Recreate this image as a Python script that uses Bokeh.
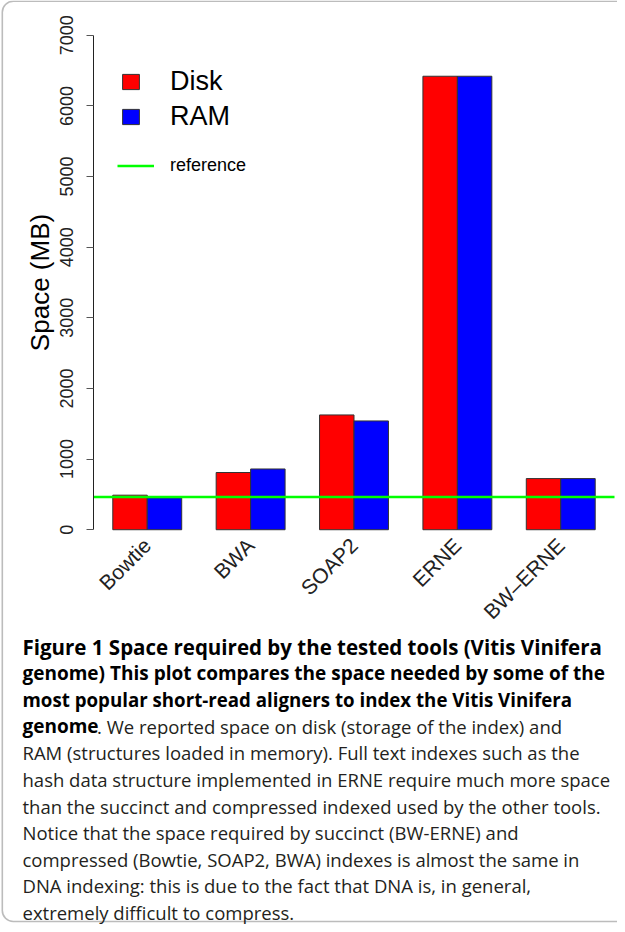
import math
from bokeh.plotting import figure
from bokeh.models import (Range1d, LinearAxis, FixedTicker, Label, Legend,
                          LegendItem, BoxAnnotation)
from bokeh.embed import file_html
from bokeh.resources import INLINE

# ---------------- data ----------------
tools = ["Bowtie", "BWA", "SOAP2", "ERNE", "BW\u2013ERNE"]
disk_mb = [489, 810, 1625, 6420, 724]
ram_mb = [452, 860, 1540, 6420, 724]
reference_mb = 465
y_ticks = [0, 1000, 2000, 3000, 4000, 5000, 6000, 7000]
y_max = 7000
series_names = ["Disk", "RAM"]
series_colors = ["#FF0000", "#0000FF"]
ref_label = "reference"
y_label = "Space (MB)"

caption_lines = [
    [("Figure 1 Space required by the tested tools (Vitis Vinifera", True)],
    [("genome) This plot compares the space needed by some of the", True)],
    [("most popular short-read aligners to index the Vitis Vinifera", True)],
    [("genome", True), (". We reported space on disk (storage of the index) and", False)],
    [("RAM (structures loaded in memory). Full text indexes such as the", False)],
    [("hash data structure implemented in ERNE require much more space", False)],
    [("than the succinct and compressed indexed used by the other tools.", False)],
    [("Notice that the space required by succinct (BW-ERNE) and", False)],
    [("compressed (Bowtie, SOAP2, BWA) indexes is almost the same in", False)],
    [("DNA indexing: this is due to the fact that DNA is, in general,", False)],
    [("extremely difficult to compress.", False)],
]

# ---------------- geometry (R barplot, beside=TRUE, space=c(0,1)) ----------------
n = len(tools)
disk_x = [3 * i + 1.5 for i in range(n)]
ram_x = [3 * i + 2.5 for i in range(n)]
group_x = [3 * i + 2 for i in range(n)]
bar_w = 1.0

x_lo = min(disk_x) - bar_w / 2
x_hi = max(ram_x) + bar_w / 2
usr_x = (x_lo - 0.04 * (x_hi - x_lo), x_hi + 0.04 * (x_hi - x_lo))
usr_y = (-0.04 * y_max, y_max * 1.04)

W, H = 617, 924
plt_l, plt_r, plt_t, plt_b = 93, 614, 15, 549
kx = (usr_x[1] - usr_x[0]) / (plt_r - plt_l)
ky = (usr_y[1] - usr_y[0]) / (plt_b - plt_t)
x_range = Range1d(usr_x[0] - plt_l * kx, usr_x[1] + (W - plt_r) * kx)
y_range = Range1d(usr_y[0] - (H - plt_b) * ky, usr_y[1] + plt_t * ky)

p = figure(width=W, height=H, x_range=x_range, y_range=y_range,
           output_backend="svg", toolbar_location=None,
           x_axis_type=None, y_axis_type=None, min_border=0)
p.outline_line_color = None
p.background_fill_color = "white"
p.border_fill_color = "white"

r_disk = p.vbar(x=disk_x, top=disk_mb, bottom=0, width=bar_w,
                fill_color=series_colors[0], line_color="#333333", line_width=1)
r_ram = p.vbar(x=ram_x, top=ram_mb, bottom=0, width=bar_w,
               fill_color=series_colors[1], line_color="#333333", line_width=1)
r_ref = p.segment(x0=[usr_x[0]], x1=[usr_x[1]], y0=[reference_mb], y1=[reference_mb],
                  line_color="#00FF00", line_width=2.5)

# y axis
yaxis = LinearAxis(fixed_location=usr_x[0], bounds=(0, y_max),
                   ticker=FixedTicker(ticks=y_ticks),
                   major_label_orientation="parallel")
yaxis.axis_line_color = "#222222"
yaxis.axis_line_width = 1
yaxis.major_tick_line_color = "#555555"
yaxis.major_tick_in = 0
yaxis.major_tick_out = 7
yaxis.minor_tick_line_color = None
yaxis.major_label_text_font = "Liberation Sans"
yaxis.major_label_text_font_size = "18px"
yaxis.major_label_text_color = "#222222"
yaxis.major_label_standoff = 13
p.add_layout(yaxis, "left")

# x axis (category names only)
xaxis = LinearAxis(fixed_location=0, ticker=FixedTicker(ticks=group_x),
                   major_label_overrides={g: t for g, t in zip(group_x, tools)},
                   major_label_orientation=math.pi / 4)
xaxis.axis_line_color = None
xaxis.major_tick_line_color = None
xaxis.minor_tick_line_color = None
xaxis.major_tick_in = 0
xaxis.major_tick_out = 0
xaxis.major_label_text_font = "Liberation Sans"
xaxis.major_label_text_font_size = "21px"
xaxis.major_label_text_color = "#222222"
xaxis.major_label_standoff = 12
p.add_layout(xaxis, "below")

# y axis title
p.add_layout(Label(x=39, y=H - 282, x_units="screen", y_units="screen",
                   text=y_label, angle=math.pi / 2, text_align="center",
                   text_baseline="alphabetic", text_font="Liberation Sans",
                   text_font_size="26px", text_color="black"))

# legends
leg1 = Legend(items=[LegendItem(label=series_names[0], renderers=[r_disk]),
                     LegendItem(label=series_names[1], renderers=[r_ram])],
              location=(120, H - 132), glyph_width=21, glyph_height=19,
              label_standoff=29, spacing=4, padding=0, margin=0,
              label_text_font="Liberation Sans", label_text_font_size="27px",
              label_text_color="black", border_line_color=None,
              background_fill_alpha=0)
leg2 = Legend(items=[LegendItem(label=ref_label, renderers=[r_ref])],
              location=(117, H - 176), glyph_width=37, glyph_height=19,
              label_standoff=16, padding=0, margin=0,
              label_text_font="Liberation Sans", label_text_font_size="18px",
              label_text_color="black", border_line_color=None,
              background_fill_alpha=0)
p.add_layout(leg1)
p.add_layout(leg2)

# caption
cap_x = 22
cap_base0 = 646
cap_pitch = 26.6
bold_sizes = [20.5, 19, 18.7, 19]
regular_size = 18.5
bold_genome_w = 74.5
for k, line in enumerate(caption_lines):
    xx = cap_x
    for txt, bold in line:
        size = bold_sizes[k] if bold else regular_size
        p.add_layout(Label(x=xx, y=H - (cap_base0 + k * cap_pitch),
                           x_units="screen", y_units="screen", text=txt,
                           text_font="Open Sans",
                           text_font_style="bold" if bold else "normal",
                           text_font_size=f"{size}px",
                           text_color="black" if bold else "#231f20",
                           text_baseline="alphabetic", text_align="left"))
        xx += bold_genome_w

# rounded frame
p.add_layout(BoxAnnotation(left=1.8, right=W + 30, bottom=H - 921, top=H - 0.8,
                           left_units="screen", right_units="screen",
                           bottom_units="screen", top_units="screen",
                           fill_color=None, fill_alpha=0, line_color="#222222",
                           line_width=1.6, border_radius=11))

open("out.html", "w").write(file_html(p, INLINE))
